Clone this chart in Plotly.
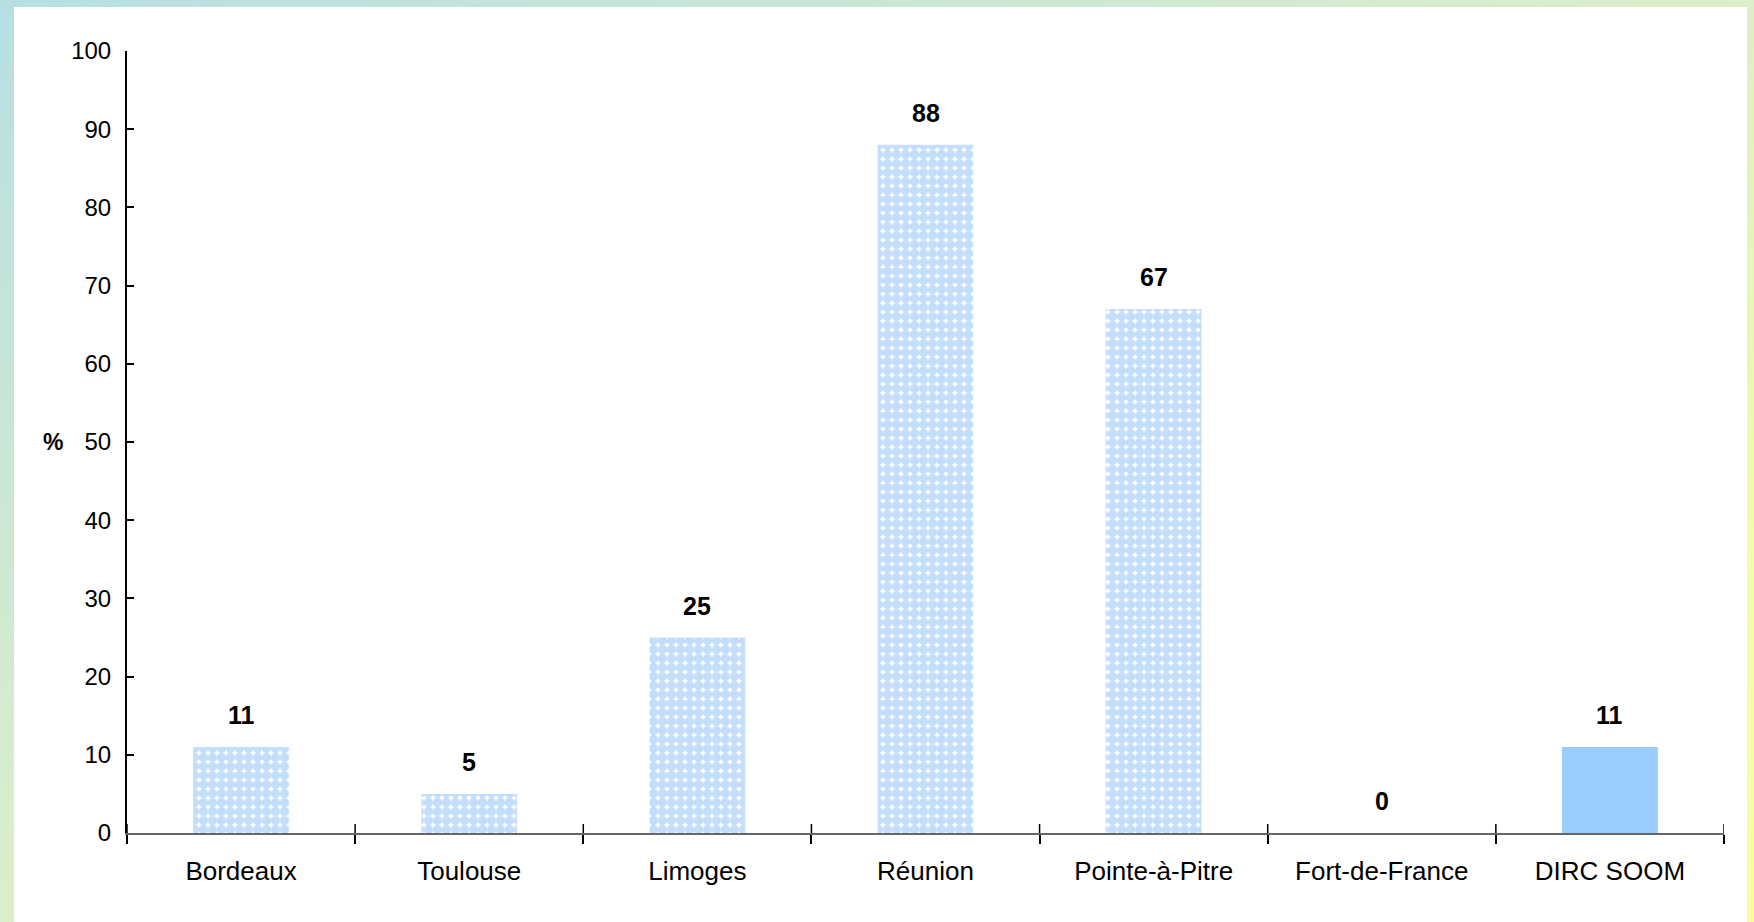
import base64
import plotly.graph_objects as go

# Share of cases per site (%)
sites = ["Bordeaux", "Toulouse", "Limoges", "Réunion", "Pointe-à-Pitre", "Fort-de-France", "DIRC SOOM"]
values = [11, 5, 25, 88, 67, 0, 11]
y_ticks = [0, 10, 20, 30, 40, 50, 60, 70, 80, 90, 100]

W, H = 1754, 922
ML, MR, MT, MB = 127, 30, 51, 89
PW, PH = W - ML - MR, H - MT - MB

FONT = "Arial, Liberation Sans, sans-serif"

# Soft diagonal gradient frame around a white panel
svg = f"""<svg xmlns='http://www.w3.org/2000/svg' width='{W}' height='{H}' viewBox='0 0 {W} {H}' preserveAspectRatio='none'>
<defs><linearGradient id='g' x1='0' y1='0' x2='1' y2='1'>
<stop offset='0' stop-color='#b7dfe3'/>
<stop offset='0.5' stop-color='#dcefc8'/>
<stop offset='0.8' stop-color='#f4fbac'/>
<stop offset='1' stop-color='#fbfca0'/>
</linearGradient></defs>
<rect x='0' y='0' width='{W}' height='{H}' fill='url(#g)'/>
<rect x='14' y='7' width='{1747 - 14}' height='{H}' fill='#ffffff'/>
</svg>"""
bg_src = "data:image/svg+xml;base64," + base64.b64encode(svg.encode()).decode()

# Sparkled light fill for individual sites (dense dots leaving small white gaps),
# solid fill for the overall total
n = len(sites)
bar_colors = ["#c3defd"] * (n - 1) + ["#99ccff"]
pat_shapes = ["."] * (n - 1) + [""]

fig = go.Figure()
fig.add_trace(go.Bar(
    x=sites,
    y=values,
    marker=dict(
        color=bar_colors,
        line=dict(width=0),
        pattern=dict(shape=pat_shapes, fillmode="replace", size=9, solidity=0.8),
    ),
    width=0.42,
    hoverinfo="x+y",
))

# Value labels above the bars
annotations = [
    dict(x=s, y=v, xref="x", yref="y", text=f"<b>{v}</b>", showarrow=False,
         yanchor="bottom", yshift=16, font=dict(family=FONT, size=25, color="#000000"))
    for s, v in zip(sites, values)
]
# Horizontal "%" label for the value axis
annotations.append(dict(
    x=0, y=50, xref="paper", yref="y", text="<b>%</b>", showarrow=False,
    xanchor="right", xshift=-62, font=dict(family=FONT, size=23, color="#000000"),
))

# Inner half of the crossing ticks on the category axis (at category boundaries)
tick_shapes = [
    dict(type="line", xref="x", yref="y", x0=i - 0.5, x1=i - 0.5,
         ysizemode="pixel", yanchor=0, y0=0, y1=9,
         line=dict(color="#000000", width=1.5), layer="above")
    for i in range(n + 1)
]

fig.update_layout(
    width=W,
    height=H,
    margin=dict(l=ML, r=MR, t=MT, b=MB, autoexpand=False),
    paper_bgcolor="#ffffff",
    plot_bgcolor="rgba(0,0,0,0)",
    showlegend=False,
    bargap=0.58,
    font=dict(family=FONT, color="#000000"),
    annotations=annotations,
    shapes=tick_shapes,
    images=[dict(
        source=bg_src, xref="paper", yref="paper",
        x=-ML / PW, y=1 + MT / PH, sizex=W / PW, sizey=H / PH,
        xanchor="left", yanchor="top", sizing="stretch", layer="below",
    )],
)

fig.update_xaxes(
    type="category",
    categoryorder="array",
    categoryarray=sites,
    range=[-0.5, n - 0.5],
    showline=True,
    linecolor="#666666",
    linewidth=2,
    ticks="outside",
    tickson="boundaries",
    ticklen=9,
    tickwidth=1.5,
    tickcolor="#000000",
    tickfont=dict(family=FONT, size=26, color="#000000"),
    ticklabelstandoff=14,
    showgrid=False,
    zeroline=False,
    fixedrange=True,
)

fig.update_yaxes(
    range=[0, 100],
    tickmode="array",
    tickvals=y_ticks,
    ticktext=[str(t) for t in y_ticks],
    showline=True,
    linecolor="#000000",
    linewidth=2,
    ticks="inside",
    ticklen=7,
    tickwidth=2,
    tickcolor="#000000",
    tickfont=dict(family=FONT, size=24, color="#000000"),
    ticklabelstandoff=9,
    showgrid=False,
    zeroline=False,
    fixedrange=True,
)

fig.write_html("out.html")
